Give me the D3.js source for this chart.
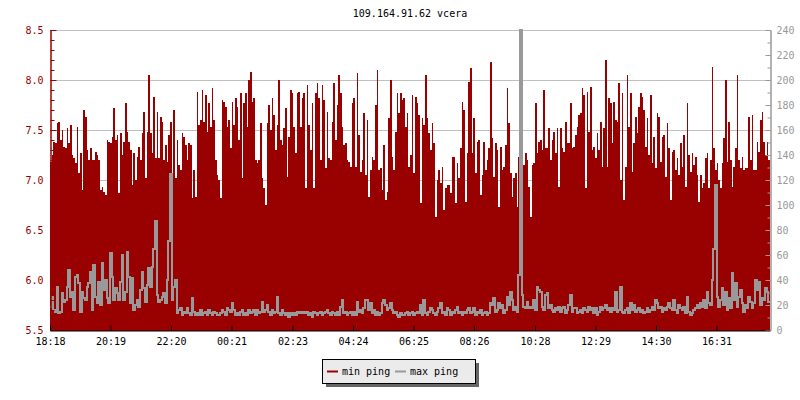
<!DOCTYPE html>
<html><head><meta charset="utf-8">
<script src="https://cdn.jsdelivr.net/npm/d3@7"></script>
<style>
body{margin:0;background:#fff}
text{font-family:"DejaVu Sans Mono",monospace;font-size:10px}
</style>
</head><body><svg id="c" width="800" height="400"></svg>
<script>
const title = "109.164.91.62 vcera";
const seriesNames = ["min ping", "max ping"];
const tickMinutes = [0,121,242,363,485,606,727,848,970,1091,1212,1333];
const tickLabels = ["18:18","20:19","22:20","00:21","02:23","04:24","06:25","08:26","10:28","12:29","14:30","16:31"];
const totalMinutes = 1440;
const leftTicks = [5.5,6.0,6.5,7.0,7.5,8.0,8.5];
const rightTicks = [0,20,40,60,80,100,120,140,160,180,200,220,240];

const minPing = [
7.18,7.25,7.38,7.37,7.57,7.58,7.40,7.50,7.33,7.32,
7.52,7.37,7.55,7.25,7.22,7.17,7.53,7.07,7.27,6.90,
7.70,7.63,7.30,7.20,7.32,7.20,7.20,7.28,7.25,7.20,
6.90,6.93,6.88,6.85,7.40,7.38,7.37,7.43,7.72,7.40,
7.45,6.87,7.47,7.25,7.38,7.77,7.48,7.38,7.30,6.95,
7.27,7.00,7.23,7.33,7.20,7.47,7.68,7.02,7.48,8.05,
7.47,7.27,7.83,7.22,7.68,7.22,7.63,7.58,7.20,7.35,
7.18,7.45,7.58,7.05,7.70,7.02,7.40,7.15,7.10,7.47,
7.43,7.35,7.20,7.37,7.35,6.82,7.10,6.83,7.88,7.55,
7.60,7.90,7.58,7.85,7.48,7.77,7.53,7.92,7.60,7.20,
7.05,7.00,6.82,7.80,7.78,7.73,7.53,7.60,
7.32,7.78,7.55,7.82,7.73,7.40,7.87,7.02,7.77,7.87,
7.53,8.00,8.08,7.78,7.82,7.20,7.17,7.20,7.57,7.02,
6.92,6.75,7.57,7.75,7.50,7.82,7.65,7.30,7.55,8.00,
7.40,7.35,7.52,7.72,7.03,7.43,7.90,7.87,7.53,7.27,
7.87,7.88,7.53,7.82,7.87,6.92,7.95,7.55,7.30,7.77,
6.92,7.87,7.97,7.82,7.20,7.95,7.80,7.12,7.68,7.22,
7.20,7.58,7.97,7.40,7.75,8.05,7.87,7.53,7.35,7.37,
7.20,7.18,7.13,7.77,7.82,7.13,8.07,7.45,7.08,7.20,
7.67,7.05,7.60,6.83,7.10,7.23,7.20,7.75,8.10,7.10,
7.12,6.90,7.35,6.80,6.88,7.62,8.00,7.23,7.10,7.48,
7.87,7.67,7.87,7.80,7.82,7.53,7.67,7.13,7.25,
7.85,7.07,7.83,7.77,7.65,6.77,7.62,7.55,8.05,7.62,
7.47,7.30,7.57,7.37,6.63,7.00,7.10,6.97,7.13,6.70,
6.92,6.95,6.95,6.87,7.23,7.23,6.77,7.17,7.02,7.32,
7.78,7.70,6.78,7.27,7.98,8.12,7.27,7.62,7.07,7.38,
7.40,6.85,7.05,7.38,7.10,7.20,7.32,8.18,7.42,7.03,
7.37,7.30,6.73,7.33,7.10,7.13,7.35,7.92,7.57,7.07,
6.83,7.02,7.07,6.73,7.23,7.08,6.98,7.15,7.27,7.20,
6.93,6.63,7.15,7.17,7.77,7.27,7.38,7.40,7.30,7.90,
7.32,7.32,7.52,7.20,7.40,7.48,7.27,7.52,6.93,7.52,
7.32,7.28,7.58,7.37,7.37,7.77,7.32,7.33,7.45,7.53,
7.65,7.67,7.92,7.85,6.92,7.88,7.48,7.93,
7.30,7.33,7.22,7.47,7.30,7.58,7.13,7.52,8.20,7.13,
7.82,7.77,7.37,7.78,7.60,7.58,7.97,7.00,7.87,6.80,
7.13,8.05,7.53,7.87,7.08,7.37,7.63,7.47,7.73,7.87,
7.83,7.70,7.33,7.62,7.25,7.85,7.17,7.43,7.12,7.67,
7.63,7.18,7.43,7.45,7.03,7.57,7.32,6.80,7.28,7.30,
7.10,7.22,7.05,7.37,7.13,7.45,6.93,7.77,7.25,7.08,
7.27,7.15,7.23,7.05,6.78,7.05,6.92,6.97,7.22,7.27,
6.92,7.20,8.13,7.32,7.10,7.17,7.00,6.92,7.17,7.42,
8.00,7.18,7.58,7.20,6.93,7.13,7.32,8.05,7.20,7.12,
7.23,7.10,7.12,7.12,7.63,7.20,7.65,7.10,7.10,7.38,
7.28,7.60,7.68,7.38,7.25,7.38,7.20
];

const maxPing = [
18.7,26.7,16,14.7,34.7,13.3,14.7,29.3,22.7,24,
34.7,48,26.7,30.7,16,42.7,44,37.3,14.7,30.7,
25.3,24,34.7,37.3,46.7,16,52,26.7,21.3,38.7,
20,53.3,32,40,25.3,21.3,61.3,42.7,24,33.3,
29.3,24,38.7,60,24,30.7,62.7,42.7,21.3,41.3,
16,20,24,18.7,32,46.7,33.3,22.7,36,49.3,
34.7,50.7,65,87,28,22.7,24,26.7,29.3,21.3,
40,71,125,24,34.7,40,13.3,16,17.3,12,
14.7,13.3,17.3,13.3,12,25.3,14.7,12,13.3,12,
16,12,13.3,14.7,12,16,13.3,12,14.7,13.3,
12,12,13.3,16,14.7,12,17.3,16,
14.7,21.3,16,12,13.3,12,14.7,16,12,13.3,
12,16,13.3,14.7,16,12,16,13.3,14.7,22.7,
14.7,16,20,14.7,12,16,13.3,14.7,26.7,13.3,
12,16,13.3,12,13.3,10.7,13.3,12,13.3,12,
14.7,13.3,14.7,13.3,14.7,13.3,14.7,12,13.3,10.7,
14.7,13.3,12,13.3,14.7,12,13.3,14.7,16,13.3,
12,14.7,13.3,12,14.7,12,18.7,24,13.3,14.7,
12,13.3,14.7,12,14.7,12,22.7,14.7,16,13.3,
17.3,24,24,16,21.3,13.3,16,12,14.7,12,
13.3,21.3,24,20,16,17.3,21.3,16,13.3,14.7,
12,10.7,13.3,12,12,13.3,14.7,12,
13.3,
14.7,12,13.3,14.7,13.3,20,12,24,13.3,12,
14.7,17.3,16,13.3,12,14.7,17.3,21.3,13.3,14.7,
12,17.3,16,12,14.7,13.3,16,18.7,13.3,14.7,
12,14.7,13.3,16,17.3,13.3,14.7,17.3,12,14.7,
13.3,16,12,13.3,14.7,12,13.3,21.3,20,25.3,
14.7,16,21.3,17.3,20,13.3,16,26.7,20,30.7,
24,16,18.7,14.7,44,240,28,18.7,17.3,22.7,
17.3,18.7,17.3,24,16,34.7,32,30.7,18.7,16,
28,29.3,17.3,20,16,14.7,17.3,16,18.7,14.7,
17.3,18.7,13.3,16,20,28,14.7,17.3,17.3,13.3,
14.7,16,13.3,17.3,16,14.7,18.7,16,
17.3,13.3,17.3,12,14.7,18.7,16,17.3,20,16,
17.3,14.7,17.3,16,30.7,14.7,16,34.7,14.7,13.3,
16,17.3,13.3,21.3,16,20,14.7,16,17.3,14.7,
16,13.3,14.7,17.3,14.7,16,18.7,16,24,21.3,
17.3,18.7,14.7,17.3,16,18.7,21.3,17.3,16,24,
16,13.3,20,17.3,16,18.7,13.3,26.7,14.7,12,
13.3,16,17.3,20,17.3,21.3,18.7,24,17.3,30.7,
21.3,20,40,65,116,26.7,18.7,24,33.3,20,
30.7,16,25.3,17.3,45.3,24,37.3,18.7,26.7,32,
21.3,14.7,20,17.3,26.7,22.7,17.3,21.3,40,32,
38.7,20,25.3,24,33.3,30.7,22.7
];

const RED = "#990000", GRAY = "#999999";
const svg = d3.select("#c");
const L = 50, R = 770, T = 30, B = 330;
const n = minPing.length;
const step = totalMinutes / n;
const table = minPing.map((v, i) => ({t: i * step, min: v, max: maxPing[i]}));
table.push({t: totalMinutes, min: minPing[n-1], max: maxPing[n-1]});

const x = d3.scaleLinear().domain([0, totalMinutes]).range([L, R]);
const yL = d3.scaleLinear().domain([5.5, 8.5]).range([B, T]);
const yR = d3.scaleLinear().domain([0, 240]).range([B, T]);
const px = v => Math.round(v);

svg.append("rect").attr("width", 800).attr("height", 400).attr("fill", "#fff");

// grid
svg.append("g").selectAll("line").data(leftTicks).join("line")
  .attr("x1", L).attr("x2", R)
  .attr("y1", d => Math.round(yL(d)) + 0.5).attr("y2", d => Math.round(yL(d)) + 0.5)
  .attr("stroke", "#c0c0c0").attr("stroke-width", 1);

// min ping area
svg.append("path").datum(table)
  .attr("d", d3.area().x(d => px(x(d.t))).y0(B + 0.5).y1(d => px(yL(d.min))).curve(d3.curveStepAfter))
  .attr("fill", RED).attr("shape-rendering", "crispEdges");

// max ping line
svg.append("path").datum(table)
  .attr("d", d3.line().x(d => px(x(d.t))).y(d => px(yR(d.max))).curve(d3.curveStepAfter))
  .attr("fill", "none").attr("stroke", GRAY).attr("stroke-width", 2)
  .attr("stroke-linejoin", "miter").attr("shape-rendering", "crispEdges");

// left axis
const leftMinor = d3.range(55, 86).map(v => v / 10);
const gLm = svg.append("g").attr("transform", `translate(${L + 0.5},0)`)
  .call(d3.axisLeft(yL).tickValues(leftMinor).tickSizeInner(-4).tickSizeOuter(0).tickFormat(""));
const gL = svg.append("g").attr("transform", `translate(${L + 0.5},0)`)
  .call(d3.axisLeft(yL).tickValues(leftTicks).tickSizeInner(-6).tickSizeOuter(0).tickPadding(7).tickFormat(d3.format(".1f")));
[gLm, gL].forEach(g => {
  g.selectAll("path,line").attr("stroke", RED);
  g.selectAll("text").attr("fill", RED).style("font-family", "DejaVu Sans Mono").style("font-size", "10px");
});

// right axis
const rightMinor = d3.range(0, 241, 10);
const gRm = svg.append("g").attr("transform", `translate(${R + 0.5},0)`)
  .call(d3.axisRight(yR).tickValues(rightMinor).tickSizeInner(-3).tickSizeOuter(0).tickFormat(""));
const gR = svg.append("g").attr("transform", `translate(${R + 0.5},0)`)
  .call(d3.axisRight(yR).tickValues(rightTicks).tickSizeInner(-5).tickSizeOuter(0).tickPadding(6));
[gRm, gR].forEach(g => {
  g.selectAll("path,line").attr("stroke", GRAY);
  g.selectAll("text").attr("fill", GRAY).style("font-family", "DejaVu Sans Mono").style("font-size", "10px");
});

// bottom axis
const gB = svg.append("g").attr("transform", `translate(0,${B + 0.5})`)
  .call(d3.axisBottom(x).tickValues(tickMinutes).tickFormat((d, i) => tickLabels[i])
    .tickSizeInner(-5).tickSizeOuter(0).tickPadding(7));
gB.selectAll("path,line").attr("stroke", "#000");
gB.selectAll("text").attr("fill", "#000").style("font-family", "DejaVu Sans Mono").style("font-size", "10px");

// title
svg.append("text").attr("x", (L + R) / 2).attr("y", 17).attr("text-anchor", "middle")
  .attr("fill", "#000").text(title);

// legend
const lg = svg.append("g");
lg.append("rect").attr("x", 326).attr("y", 363).attr("width", 153).attr("height", 24).attr("fill", "#666");
lg.append("rect").attr("x", 322.5).attr("y", 359.5).attr("width", 153).attr("height", 24)
  .attr("fill", "#ebebeb").attr("stroke", "#000").attr("stroke-width", 1);
const legendColors = [RED, GRAY];
const legendX = [327, 395];
seriesNames.forEach((name, i) => {
  lg.append("line").attr("x1", legendX[i]).attr("x2", legendX[i] + 11)
    .attr("y1", 371.5).attr("y2", 371.5).attr("stroke", legendColors[i]).attr("stroke-width", 2);
  lg.append("text").attr("x", legendX[i] + 15).attr("y", 375).attr("fill", "#000").text(name);
});
</script>
</body></html>
